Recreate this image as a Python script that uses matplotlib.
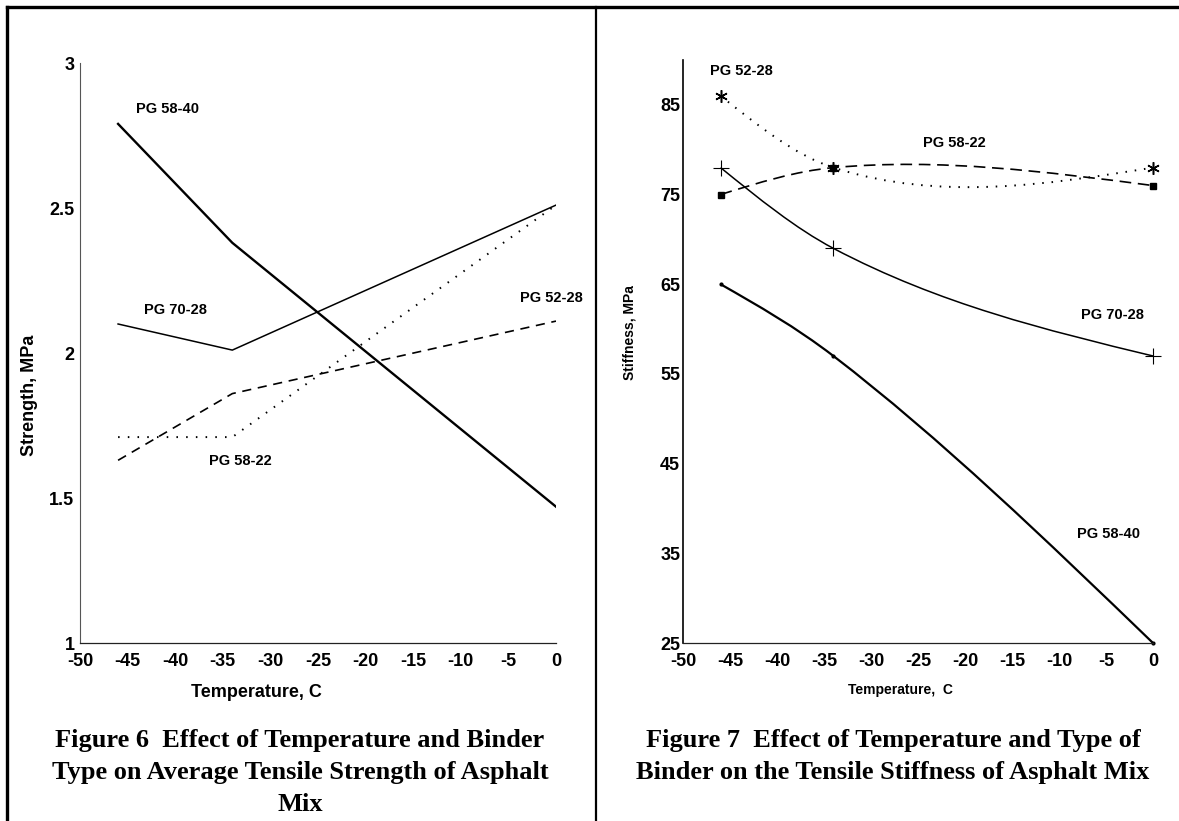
import matplotlib
matplotlib.use("Agg")
import matplotlib.pyplot as plt
from matplotlib.path import Path
from matplotlib.patches import PathPatch
from matplotlib.lines import Line2D

plt.rcParams["axes.unicode_minus"] = False

# temperatures, C
temps = [-46, -34, 0]

# Figure 6 - average tensile strength, MPa
strength_5840 = [2.79, 2.38, 1.47]
strength_7028 = [2.10, 2.01, 2.51]
strength_5228 = [1.63, 1.86, 2.11]
strength_5822 = [1.71, 1.71, 2.51]

# Figure 7 - tensile stiffness, MPa
stiff_5228 = [86, 78, 78]
stiff_5822 = [75, 78, 76]
stiff_7028 = [78, 69, 57]
stiff_5840 = [65, 57, 25]

x_ticks = list(range(-50, 1, 5))
strength_ticks = [1, 1.5, 2, 2.5, 3]
strength_ticklabels = ["1", "1.5", "2", "2.5", "3"]
stiff_ticks = list(range(25, 86, 10))

SANS = "Liberation Sans"
SERIF = "Liberation Serif"
W, H = 1179, 821


def smooth_path(xs, ys):
    # smoothed line through the points, drawn as cubic bezier segments
    n = len(xs)
    s = [(ys[i + 1] - ys[i]) / (xs[i + 1] - xs[i]) for i in range(n - 1)]
    m = [0.0] * n
    for i in range(1, n - 1):
        h0 = xs[i] - xs[i - 1]
        h1 = xs[i + 1] - xs[i]
        par = (h1 * s[i - 1] + h0 * s[i]) / (h0 + h1)
        chord = (ys[i + 1] - ys[i - 1]) / (xs[i + 1] - xs[i - 1])
        m[i] = 0.5 * par + 0.5 * chord
    m[0] = (3 * s[0] - m[1]) / 2
    m[-1] = (3 * s[-1] - m[-2]) / 2
    verts = [(xs[0], ys[0])]
    codes = [Path.MOVETO]
    for i in range(n - 1):
        h = (xs[i + 1] - xs[i]) / 3
        verts += [(xs[i] + h, ys[i] + m[i] * h),
                  (xs[i + 1] - h, ys[i + 1] - m[i + 1] * h),
                  (xs[i + 1], ys[i + 1])]
        codes += [Path.CURVE4] * 3
    return Path(verts, codes)


def style_axes(ax, spine_lw, spine_col, ypad):
    for side in ["top", "right"]:
        ax.spines[side].set_visible(False)
    ax.spines["left"].set_linewidth(spine_lw)
    ax.spines["left"].set_color(spine_col)
    ax.spines["bottom"].set_linewidth(0.9)
    ax.spines["bottom"].set_color("#222222")
    ax.tick_params(length=0)
    ax.tick_params(axis="x", pad=7)
    ax.tick_params(axis="y", pad=ypad)
    for lab in ax.get_xticklabels() + ax.get_yticklabels():
        lab.set_fontfamily(SANS)
        lab.set_fontweight("bold")
        lab.set_fontsize(13)
    ax.set_facecolor("none")


fig = plt.figure(figsize=(W / 100, H / 100), dpi=100)

# ---- Figure 6 ----
ax1 = fig.add_axes([80 / W, 1 - 643 / H, 476 / W, 580 / H])
ax1.plot(temps, strength_5840, color="black", lw=1.7)
ax1.plot(temps, strength_7028, color="black", lw=1.1)
ax1.plot(temps, strength_5228, color="black", lw=1.2, ls=(0, (5.5, 4)))
ax1.plot(temps, strength_5822, color="black", lw=1.4, ls=(0, (0.8, 4.2)))
ax1.set_xlim(-50, 0)
ax1.set_ylim(1, 3)
ax1.set_xticks(x_ticks)
ax1.set_yticks(strength_ticks)
ax1.set_yticklabels(strength_ticklabels)
style_axes(ax1, 0.8, "#555555", 4)

lab_kw = dict(fontfamily=SANS, fontweight="bold", fontsize=10.5, ha="center", va="center")
ax1.text(-40.8, 2.84, "PG 58-40", **lab_kw)
ax1.text(-40.0, 2.15, "PG 70-28", **lab_kw)
ax1.text(-0.5, 2.19, "PG 52-28", clip_on=False, **lab_kw)
ax1.text(-33.2, 1.627, "PG 58-22", **lab_kw)

fig.text(30 / W, 1 - 395 / H, "Strength, MPa", rotation=90, ha="center", va="center",
         fontfamily=SANS, fontweight="bold", fontsize=13)
fig.text(256 / W, 1 - 692 / H, "Temperature, C", ha="center", va="center",
         fontfamily=SANS, fontweight="bold", fontsize=13)

# ---- Figure 7 ----
ax2 = fig.add_axes([683 / W, 1 - 643 / H, 470 / W, 583 / H])
ax2.set_xlim(-50, 0)
ax2.set_ylim(25, 90)
ax2.add_patch(PathPatch(smooth_path(temps, stiff_5228), fill=False, color="black",
                        lw=1.4, ls=(0, (0.8, 4))))
ax2.add_patch(PathPatch(smooth_path(temps, stiff_5822), fill=False, color="black",
                        lw=1.2, ls=(0, (7, 4))))
ax2.add_patch(PathPatch(smooth_path(temps, stiff_7028), fill=False, color="black", lw=1.1))
ax2.add_patch(PathPatch(smooth_path(temps, stiff_5840), fill=False, color="black", lw=1.6))
ax2.plot(temps, stiff_5228, ls="none", marker=(6, 2, 0), ms=9, mew=1.1, color="black", clip_on=False)
ax2.plot(temps, stiff_5822, ls="none", marker="s", ms=5, color="black", clip_on=False)
ax2.plot(temps, stiff_7028, ls="none", marker="+", ms=11, mew=0.8, color="black", clip_on=False)
ax2.plot(temps, stiff_5840, ls="none", marker="o", ms=2, color="black", clip_on=False)
ax2.set_xticks(x_ticks)
ax2.set_yticks(stiff_ticks)
style_axes(ax2, 1.2, "black", 2)

ax2.text(-43.8, 88.8, "PG 52-28", **lab_kw)
ax2.text(-21.1, 80.7, "PG 58-22", **lab_kw)
ax2.text(-4.3, 61.6, "PG 70-28", **lab_kw)
ax2.text(-4.7, 37.2, "PG 58-40", **lab_kw)

fig.text(630 / W, 1 - 333 / H, "Stiffness, MPa", rotation=90, ha="center", va="center",
         fontfamily=SANS, fontweight="bold", fontsize=10)
fig.text(900 / W, 1 - 690 / H, "Temperature,  C", ha="center", va="center",
         fontfamily=SANS, fontweight="bold", fontsize=10)

# ---- captions ----
cap_kw = dict(fontfamily=SERIF, fontweight="bold", fontsize=19, ha="center", va="center")
fig.text(300 / W, 1 - 740 / H, "Figure 6  Effect of Temperature and Binder", **cap_kw)
fig.text(300 / W, 1 - 772 / H, "Type on Average Tensile Strength of Asphalt", **cap_kw)
fig.text(300 / W, 1 - 804 / H, "Mix", **cap_kw)
fig.text(893 / W, 1 - 740 / H, "Figure 7  Effect of Temperature and Type of", **cap_kw)
fig.text(893 / W, 1 - 772 / H, "Binder on the Tensile Stiffness of Asphalt Mix", **cap_kw)

# ---- frame lines ----
fig.add_artist(Line2D([7 / W, 1], [1 - 7 / H, 1 - 7 / H], transform=fig.transFigure,
                      color="black", lw=2.4))
fig.add_artist(Line2D([7 / W, 7 / W], [0, 1 - 7 / H], transform=fig.transFigure,
                      color="black", lw=2.4))
fig.add_artist(Line2D([596 / W, 596 / W], [0, 1 - 7 / H], transform=fig.transFigure,
                      color="black", lw=1.6))

fig.savefig("out.png", dpi=100)
